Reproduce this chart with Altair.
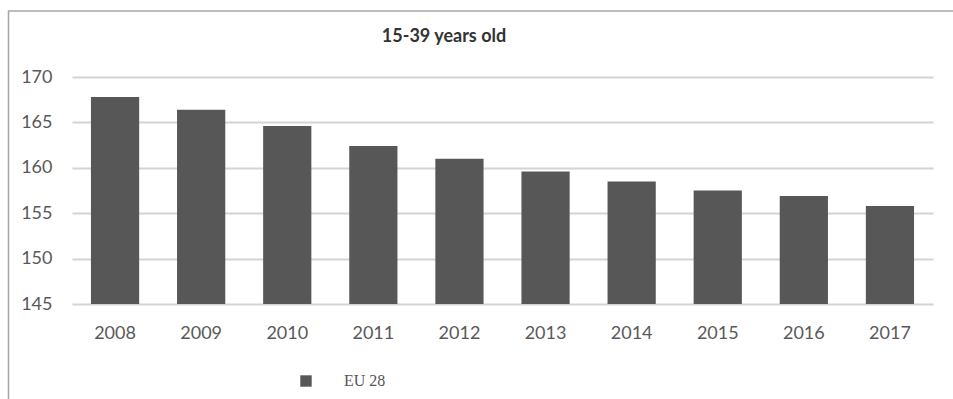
import altair as alt
import pandas as pd

years = ["2008", "2009", "2010", "2011", "2012", "2013", "2014", "2015", "2016", "2017"]
values = [167.8, 166.4, 164.6, 162.4, 161.0, 159.6, 158.5, 157.5, 156.9, 155.8]
series = ["EU 28"] * len(years)
y_ticks = [145, 150, 155, 160, 165, 170]
title_text = ["15-39 years old"]

df = pd.DataFrame({"year": years, "value": values, "series": series})
title_df = pd.DataFrame({"t": title_text})

bars = alt.Chart(df).mark_bar(color="#575757").encode(
    x=alt.X("year:N", sort=years, title=None,
            scale=alt.Scale(paddingInner=0.44, paddingOuter=0.22),
            axis=alt.Axis(labelAngle=0, ticks=False, domain=False, grid=False,
                          labelFont="Lato", labelFontSize=18, labelColor="#595959",
                          labelPadding=20)),
    y=alt.Y("value:Q", title=None,
            scale=alt.Scale(domain=[145, 170], zero=False, nice=False),
            axis=alt.Axis(values=y_ticks, ticks=False, domain=False,
                          gridColor="#d4d4d4", gridWidth=2,
                          labelFont="Lato", labelFontSize=18, labelColor="#595959",
                          labelPadding=20)),
    y2=alt.datum(145),
    color=alt.Color("series:N", scale=alt.Scale(domain=["EU 28"], range=["#575757"]),
                    legend=alt.Legend(title=None, orient="none", legendX=226, legendY=296,
                                      symbolType="square", symbolSize=130,
                                      symbolStrokeWidth=0,
                                      labelFont="Liberation Serif", labelFontSize=16,
                                      labelColor="#555555", labelOffset=30)),
)

title = alt.Chart(title_df).mark_text(
    font="Lato", fontSize=18, fontWeight="bold", color="#333333",
    align="center", baseline="middle"
).encode(text="t:N", x=alt.value(372), y=alt.value(-40))

frame_left = alt.Chart(title_df).mark_rule(color="#a6a6a6", strokeWidth=1.5).encode(
    x=alt.value(-63.5), y=alt.value(-66), y2=alt.value(330)
)
frame_top = alt.Chart(title_df).mark_rule(color="#a6a6a6", strokeWidth=1.5).encode(
    x=alt.value(-64), x2=alt.value(900), y=alt.value(-66)
)

chart = alt.layer(bars, title, frame_left, frame_top).properties(
    width=861, height=227,
    autosize=alt.AutoSizeParams(type="none"),
    padding={"left": 72, "top": 77, "right": 20, "bottom": 95},
).configure_view(stroke=None)

chart.save("out.html", embed_options={"renderer": "svg", "actions": False})
